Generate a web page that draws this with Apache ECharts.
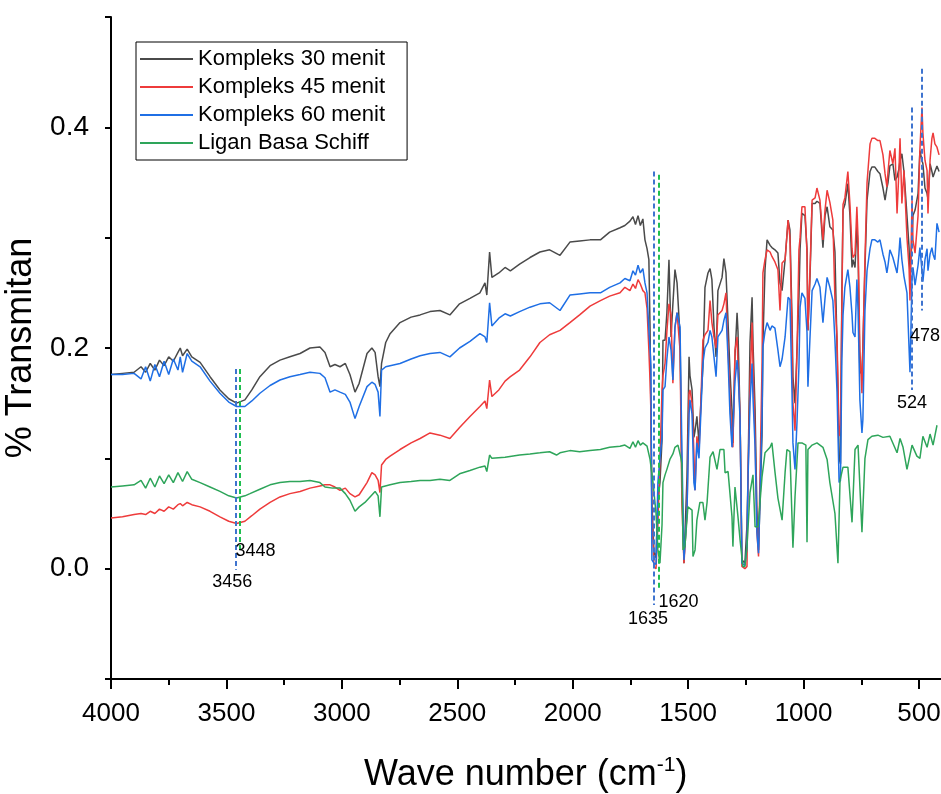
<!DOCTYPE html>
<html>
<head>
<meta charset="utf-8">
<title>FTIR Kompleks</title>
<script src="https://cdn.jsdelivr.net/npm/echarts@6/dist/echarts.min.js"></script>
<style>
  html, body { margin: 0; padding: 0; background: #fff; }
  #chart { width: 941px; height: 794px; }
</style>
</head>
<body>
<div id="chart"></div>
<script>
// bilangan gelombang (cm-1) untuk ketiga kompleks
const waveKompleks = [
  4000, 3950, 3900, 3870, 3850, 3830, 3810, 3790, 3770, 3750,
  3730, 3710, 3700, 3690, 3670, 3650, 3614, 3571, 3528, 3490,
  3456, 3420, 3390, 3355, 3311, 3268, 3225, 3181, 3138, 3095,
  3073, 3051, 3030, 3008, 2985, 2965, 2943, 2925, 2891, 2870,
  2856, 2843, 2835, 2828, 2810, 2791, 2748, 2700, 2661, 2618,
  2575, 2532, 2490, 2445, 2402, 2380, 2372, 2360, 2350, 2320,
  2293, 2270, 2230, 2185, 2142, 2100, 2055, 2012, 1970, 1925,
  1880, 1840, 1795, 1774, 1752, 1739, 1728, 1717, 1707, 1696,
  1687, 1678, 1670, 1665, 1661, 1657, 1648, 1639, 1631, 1622,
  1613, 1609, 1600, 1592, 1583, 1574, 1566, 1557, 1548, 1535,
  1527, 1518, 1505, 1496, 1492, 1483, 1475, 1470, 1462, 1453,
  1445, 1436, 1427, 1414, 1405, 1397, 1388, 1379, 1371, 1353,
  1345, 1336, 1327, 1319, 1310, 1306, 1297, 1288, 1284, 1275,
  1267, 1254, 1245, 1241, 1232, 1223, 1219, 1210, 1202, 1195,
  1189, 1180, 1176, 1167, 1158, 1145, 1137, 1124, 1111, 1102,
  1093, 1080, 1067, 1059, 1050, 1046, 1037, 1028, 1020, 1015,
  1007, 994, 985, 981, 972, 963, 950, 942, 929, 916,
  907, 898, 886, 873, 864, 855, 846, 840, 834, 829,
  821, 808, 799, 790, 786, 777, 769, 764, 756, 747,
  743, 734, 725, 712, 704, 691, 678, 669, 656, 647,
  639, 634, 626, 613, 604, 595, 587, 582, 574, 565,
  552, 543, 539, 530, 526, 517, 509, 504, 496, 487,
  483, 474, 465, 461, 452, 444, 439, 431, 422, 413
]

const kompleks30 = [
  0.176, 0.177, 0.178, 0.183, 0.178, 0.186, 0.180, 0.189, 0.184, 0.192,
  0.188, 0.196, 0.200, 0.193, 0.199, 0.192, 0.187, 0.174, 0.162, 0.154,
  0.150, 0.153, 0.162, 0.174, 0.184, 0.189, 0.192, 0.195, 0.200, 0.201,
  0.196, 0.183, 0.185, 0.183, 0.186, 0.176, 0.160, 0.168, 0.195, 0.200,
  0.196, 0.174, 0.165, 0.186, 0.205, 0.213, 0.223, 0.228, 0.230, 0.233,
  0.234, 0.230, 0.240, 0.245, 0.250, 0.259, 0.248, 0.287, 0.264, 0.268,
  0.273, 0.270, 0.276, 0.282, 0.287, 0.289, 0.284, 0.296, 0.297, 0.298,
  0.298, 0.305, 0.309, 0.311, 0.315, 0.319, 0.312, 0.320, 0.311, 0.317,
  0.298, 0.290, 0.280, 0.219, 0.138, 0.060, 0.015, 0.010, 0.062, 0.078,
  0.117, 0.207, 0.207, 0.232, 0.280, 0.210, 0.240, 0.271, 0.259, 0.210,
  0.078, 0.005, 0.083, 0.192, 0.175, 0.162, 0.119, 0.125, 0.138, 0.114,
  0.150, 0.183, 0.255, 0.268, 0.272, 0.262, 0.219, 0.192, 0.252, 0.264,
  0.281, 0.268, 0.223, 0.180, 0.144, 0.114, 0.192, 0.232, 0.215, 0.138,
  0.008, 0.005, 0.040, 0.078, 0.205, 0.246, 0.205, 0.144, 0.053, 0.017,
  0.017, 0.120, 0.205, 0.271, 0.298, 0.293, 0.291, 0.289, 0.286, 0.259,
  0.252, 0.280, 0.316, 0.307, 0.228, 0.174, 0.150, 0.200, 0.246, 0.290,
  0.322, 0.320, 0.290, 0.216, 0.265, 0.331, 0.331, 0.333, 0.331, 0.291,
  0.320, 0.328, 0.310, 0.307, 0.287, 0.201, 0.100, 0.095, 0.250, 0.325,
  0.330, 0.349, 0.320, 0.273, 0.280, 0.273, 0.310, 0.290, 0.177, 0.180,
  0.200, 0.273, 0.334, 0.360, 0.364, 0.364, 0.360, 0.358, 0.345, 0.334,
  0.345, 0.350, 0.365, 0.367, 0.352, 0.355, 0.362, 0.370, 0.376, 0.360,
  0.320, 0.291, 0.264, 0.300, 0.320, 0.325, 0.325, 0.340, 0.379, 0.370,
  0.367, 0.345, 0.340, 0.335, 0.367, 0.360, 0.355, 0.360, 0.365, 0.360
]

const kompleks45 = [
  0.046, 0.047, 0.049, 0.050, 0.049, 0.052, 0.050, 0.054, 0.052, 0.056,
  0.054, 0.058, 0.059, 0.057, 0.060, 0.058, 0.056, 0.052, 0.047, 0.043,
  0.041, 0.043, 0.048, 0.054, 0.060, 0.065, 0.068, 0.070, 0.073, 0.075,
  0.076, 0.076, 0.074, 0.071, 0.073, 0.068, 0.065, 0.067, 0.078, 0.087,
  0.085, 0.080, 0.069, 0.094, 0.099, 0.102, 0.108, 0.114, 0.118, 0.123,
  0.121, 0.118, 0.128, 0.138, 0.147, 0.152, 0.145, 0.171, 0.156, 0.162,
  0.170, 0.174, 0.180, 0.192, 0.205, 0.212, 0.216, 0.223, 0.230, 0.238,
  0.243, 0.247, 0.250, 0.255, 0.252, 0.258, 0.254, 0.262, 0.258, 0.252,
  0.250, 0.236, 0.198, 0.170, 0.141, 0.050, 0.002, 0.000, 0.040, 0.100,
  0.162, 0.175, 0.186, 0.215, 0.240, 0.230, 0.168, 0.219, 0.232, 0.198,
  0.060, 0.005, 0.050, 0.159, 0.162, 0.150, 0.105, 0.071, 0.120, 0.105,
  0.150, 0.207, 0.212, 0.216, 0.243, 0.223, 0.210, 0.200, 0.230, 0.234,
  0.240, 0.250, 0.198, 0.160, 0.114, 0.110, 0.198, 0.210, 0.185, 0.138,
  0.002, 0.000, 0.002, 0.078, 0.168, 0.223, 0.185, 0.120, 0.033, 0.011,
  0.011, 0.183, 0.268, 0.280, 0.289, 0.287, 0.283, 0.278, 0.271, 0.234,
  0.277, 0.280, 0.316, 0.300, 0.210, 0.150, 0.125, 0.200, 0.289, 0.300,
  0.328, 0.328, 0.285, 0.216, 0.270, 0.334, 0.336, 0.345, 0.334, 0.298,
  0.325, 0.343, 0.332, 0.316, 0.243, 0.210, 0.120, 0.130, 0.237, 0.330,
  0.336, 0.360, 0.330, 0.290, 0.282, 0.285, 0.328, 0.300, 0.198, 0.159,
  0.200, 0.280, 0.350, 0.385, 0.390, 0.390, 0.388, 0.388, 0.375, 0.358,
  0.346, 0.360, 0.379, 0.367, 0.381, 0.322, 0.360, 0.390, 0.331, 0.361,
  0.300, 0.273, 0.243, 0.334, 0.298, 0.286, 0.286, 0.320, 0.380, 0.418,
  0.395, 0.370, 0.361, 0.322, 0.370, 0.390, 0.395, 0.385, 0.382, 0.375
]

const kompleks60 = [
  0.176, 0.176, 0.177, 0.172, 0.183, 0.170, 0.185, 0.174, 0.188, 0.176,
  0.190, 0.180, 0.192, 0.178, 0.195, 0.188, 0.183, 0.170, 0.159, 0.151,
  0.147, 0.147, 0.152, 0.159, 0.166, 0.171, 0.174, 0.176, 0.178, 0.177,
  0.173, 0.160, 0.162, 0.160, 0.158, 0.151, 0.136, 0.147, 0.165, 0.169,
  0.167, 0.160, 0.138, 0.180, 0.183, 0.184, 0.186, 0.190, 0.193, 0.195,
  0.196, 0.192, 0.200, 0.206, 0.213, 0.210, 0.205, 0.241, 0.220, 0.227,
  0.231, 0.229, 0.233, 0.237, 0.240, 0.241, 0.234, 0.248, 0.249, 0.250,
  0.250, 0.255, 0.259, 0.263, 0.261, 0.270, 0.266, 0.275, 0.268, 0.272,
  0.259, 0.250, 0.216, 0.200, 0.183, 0.008, 0.005, 0.004, 0.078, 0.100,
  0.119, 0.162, 0.165, 0.190, 0.210, 0.198, 0.171, 0.219, 0.232, 0.219,
  0.108, 0.008, 0.050, 0.140, 0.153, 0.140, 0.078, 0.071, 0.114, 0.100,
  0.140, 0.186, 0.200, 0.205, 0.216, 0.210, 0.192, 0.174, 0.210, 0.216,
  0.225, 0.232, 0.190, 0.141, 0.110, 0.110, 0.170, 0.189, 0.180, 0.135,
  0.005, 0.003, 0.020, 0.078, 0.150, 0.186, 0.155, 0.110, 0.033, 0.014,
  0.014, 0.135, 0.201, 0.215, 0.223, 0.216, 0.220, 0.218, 0.198, 0.183,
  0.190, 0.210, 0.246, 0.244, 0.160, 0.114, 0.090, 0.135, 0.183, 0.237,
  0.250, 0.245, 0.214, 0.165, 0.210, 0.252, 0.258, 0.263, 0.255, 0.223,
  0.245, 0.264, 0.255, 0.243, 0.207, 0.160, 0.078, 0.080, 0.189, 0.230,
  0.255, 0.271, 0.255, 0.230, 0.214, 0.210, 0.262, 0.235, 0.153, 0.123,
  0.135, 0.234, 0.270, 0.290, 0.298, 0.298, 0.296, 0.298, 0.285, 0.278,
  0.268, 0.275, 0.289, 0.282, 0.275, 0.268, 0.285, 0.300, 0.280, 0.265,
  0.250, 0.200, 0.178, 0.265, 0.273, 0.257, 0.257, 0.275, 0.291, 0.270,
  0.260, 0.280, 0.290, 0.270, 0.285, 0.291, 0.285, 0.280, 0.313, 0.305
]

// ligan basa Schiff punya grid sendiri
const waveLigan = [
  4000, 3950, 3900, 3870, 3850, 3830, 3810, 3790, 3770, 3750,
  3730, 3710, 3690, 3670, 3650, 3614, 3571, 3528, 3490, 3456,
  3420, 3398, 3355, 3311, 3268, 3225, 3181, 3138, 3095, 3073,
  3040, 3008, 2985, 2965, 2943, 2925, 2900, 2878, 2856, 2843,
  2835, 2828, 2791, 2748, 2700, 2661, 2618, 2575, 2532, 2490,
  2445, 2402, 2380, 2372, 2360, 2350, 2293, 2230, 2185, 2142,
  2100, 2070, 2055, 2012, 1970, 1925, 1880, 1840, 1795, 1774,
  1752, 1739, 1728, 1717, 1707, 1696, 1678, 1665, 1652, 1639,
  1631, 1622, 1613, 1609, 1600, 1592, 1579, 1566, 1557, 1544,
  1531, 1527, 1522, 1514, 1501, 1483, 1479, 1470, 1462, 1449,
  1436, 1427, 1418, 1405, 1392, 1375, 1362, 1345, 1340, 1327,
  1310, 1306, 1297, 1284, 1275, 1263, 1254, 1245, 1232, 1219,
  1210, 1197, 1180, 1167, 1145, 1137, 1124, 1111, 1093, 1080,
  1072, 1059, 1046, 1037, 1024, 1007, 990, 985, 981, 963,
  942, 916, 898, 886, 864, 851, 842, 829, 808, 790,
  777, 764, 747, 734, 721, 704, 678, 656, 626, 595,
  582, 569, 552, 530, 509, 496, 483, 465, 452, 439,
  422
]

const liganBasaSchiff = [
  0.074, 0.075, 0.076, 0.080, 0.073, 0.082, 0.074, 0.084, 0.077, 0.085,
  0.078, 0.087, 0.079, 0.088, 0.081, 0.078, 0.074, 0.070, 0.066, 0.064,
  0.066, 0.068, 0.072, 0.076, 0.078, 0.079, 0.079, 0.080, 0.078, 0.074,
  0.073, 0.073, 0.068, 0.062, 0.052, 0.056, 0.060, 0.065, 0.070, 0.066,
  0.047, 0.074, 0.076, 0.078, 0.079, 0.080, 0.080, 0.081, 0.080, 0.086,
  0.089, 0.092, 0.093, 0.088, 0.103, 0.100, 0.101, 0.103, 0.104, 0.105,
  0.106, 0.103, 0.105, 0.107, 0.106, 0.107, 0.108, 0.110, 0.111, 0.112,
  0.109, 0.115, 0.110, 0.116, 0.112, 0.114, 0.111, 0.099, 0.078, 0.050,
  0.017, 0.005, 0.040, 0.078, 0.085, 0.090, 0.099, 0.104, 0.110, 0.112,
  0.100, 0.095, 0.017, 0.020, 0.056, 0.053, 0.011, 0.017, 0.044, 0.060,
  0.060, 0.044, 0.060, 0.101, 0.106, 0.090, 0.108, 0.108, 0.087, 0.088,
  0.047, 0.020, 0.074, 0.047, 0.026, 0.002, 0.002, 0.020, 0.069, 0.085,
  0.038, 0.038, 0.083, 0.105, 0.110, 0.114, 0.088, 0.064, 0.044, 0.087,
  0.108, 0.106, 0.019, 0.065, 0.114, 0.114, 0.112, 0.024, 0.108, 0.112,
  0.114, 0.110, 0.099, 0.078, 0.050, 0.005, 0.080, 0.092, 0.092, 0.042,
  0.108, 0.112, 0.033, 0.100, 0.117, 0.120, 0.121, 0.119, 0.120, 0.105,
  0.118, 0.110, 0.090, 0.112, 0.102, 0.100, 0.120, 0.110, 0.122, 0.112,
  0.130
]

// garis putus-putus penanda puncak: posisi, ujung atas, ujung bawah, teks label
const markBiru = [3460, 1648, 530, 487]
const markBiruAtas = [0.181, 0.360, 0.418, 0.453]
const markBiruBawah = [-0.001, -0.033, 0.162, 0.234]
const markBiruLabel = ['3456', '1635', '524', '478']
const markHijau = [3441, 1628]
const markHijauAtas = [0.181, 0.357]
const markHijauBawah = [0.017, -0.019]
const markHijauLabel = ['3448', '1620']

const legendNames = ['Kompleks 30 menit', 'Kompleks 45 menit', 'Kompleks 60 menit', 'Ligan Basa Schiff']
const colors = ['#4a4a4a', '#ee3b3b', '#1f6fe5', '#2ea55a']

const FONT = '"Liberation Sans", Arial, sans-serif'

function pairs(wave, vals) {
  return wave.map((w, i) => [w, vals[i]])
}

// label tweak per penanda (geser kiri/kanan, jarak dari ujung)
const labelTweak = {
  '3456': { distance: 3, padding: [0, 7, 0, 0] },
  '1635': { distance: 5, padding: [0, 12, 0, 0] },
  '524': { distance: 4, padding: [0, 0, 0, 0] },
  '478': { distance: 17, padding: [0, 0, 0, 6] },
  '3448': { distance: -8, padding: [0, 0, 0, 31] },
  '1620': { distance: 3, padding: [0, 0, 0, 40] }
}

function markLines(pos, top, bottom, labels, color) {
  return {
    silent: true,
    symbol: ['none', 'none'],
    animation: false,
    lineStyle: { color: color, type: [5, 3], width: 2 },
    label: { show: true, position: 'end', color: '#000', fontSize: 18, fontFamily: FONT },
    data: pos.map((w, i) => {
      const t = labelTweak[labels[i]]
      const lbl = { formatter: labels[i], distance: t.distance, padding: t.padding }
      return [{ coord: [w, top[i]], label: lbl }, { coord: [w, bottom[i]], label: lbl }]
    })
  }
}

function lineSeries(name, data, color, extra) {
  return Object.assign({
    name: name,
    type: 'line',
    data: data,
    symbol: 'none',
    silent: true,
    lineStyle: { color: color, width: 1.5 },
    itemStyle: { color: color }
  }, extra || {})
}

const chart = echarts.init(document.getElementById('chart'))

const option = {
  animation: false,
  backgroundColor: '#fff',
  title: {
    text: '{a|Wave number (cm}{b|-1}{a|)}',
    left: 359,
    top: 750,
    textStyle: {
      fontWeight: 'normal',
      rich: {
        a: { fontSize: 36, fontWeight: 'normal', fontFamily: FONT, color: '#000', lineHeight: 40 },
        b: { fontSize: 21, fontWeight: 'normal', fontFamily: FONT, color: '#000', lineHeight: 22, verticalAlign: 'top' }
      }
    }
  },
  legend: {
    data: legendNames,
    orient: 'vertical',
    left: 136,
    top: 42,
    icon: 'rect',
    itemWidth: 53,
    itemHeight: 2,
    itemGap: 6,
    padding: [6, 22, 6, 4],
    backgroundColor: '#fff',
    borderColor: '#000',
    borderWidth: 1,
    borderRadius: 0,
    textStyle: { fontSize: 22, color: '#000', fontFamily: FONT }
  },
  // grid diperpanjang lewat tepi kanan supaya sumbu x berhenti di ~400 cm-1
  grid: {
    left: 111,
    top: 17,
    width: 923.4,
    bottom: 115,
    outerBoundsMode: 'none',
    containLabel: false
  },
  xAxis: {
    type: 'value',
    inverse: true,
    min: 0,
    max: 4000,
    interval: 500,
    axisLine: { show: true, onZero: false, lineStyle: { color: '#000', width: 2 } },
    axisTick: { show: true, inside: false, length: 10, lineStyle: { color: '#000', width: 2 } },
    minorTick: { show: true, splitNumber: 2, length: 6, lineStyle: { color: '#000', width: 2 } },
    splitLine: { show: false },
    axisLabel: {
      margin: 22,
      fontSize: 26,
      color: '#000',
      fontFamily: FONT,
      formatter: function(v) {
        return v >= 500 ? String(v) : ''
      }
    }
  },
  yAxis: {
    type: 'value',
    min: -0.1,
    max: 0.5,
    interval: 0.1,
    name: '% Transmitan',
    nameLocation: 'middle',
    nameGap: 58,
    nameTextStyle: { fontSize: 36, color: '#000', fontFamily: FONT },
    axisLine: { show: true, onZero: false, lineStyle: { color: '#000', width: 2 } },
    axisTick: { show: true, inside: false, length: 6, lineStyle: { color: '#000', width: 2 } },
    splitLine: { show: false },
    axisLabel: {
      margin: 22,
      fontSize: 28,
      color: '#000',
      fontFamily: FONT,
      formatter: function(v) {
        const k = Math.round(v * 10)
        if (k < 0 || k % 2 !== 0) return ''
        return (k / 10).toFixed(1)
      }
    }
  },
  series: [
    lineSeries(legendNames[0], pairs(waveKompleks, kompleks30), colors[0]),
    lineSeries(legendNames[1], pairs(waveKompleks, kompleks45), colors[1]),
    lineSeries(legendNames[2], pairs(waveKompleks, kompleks60), colors[2], {
      markLine: markLines(markBiru, markBiruAtas, markBiruBawah, markBiruLabel, '#3f74cf')
    }),
    lineSeries(legendNames[3], pairs(waveLigan, liganBasaSchiff), colors[3], {
      markLine: markLines(markHijau, markHijauAtas, markHijauBawah, markHijauLabel, '#1fbf4f')
    })
  ]
}

chart.setOption(option)
</script>
</body>
</html>
